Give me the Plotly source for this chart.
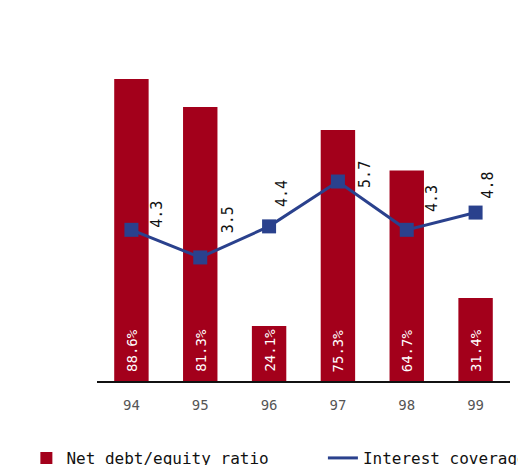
import plotly.graph_objects as go

years = ["94", "95", "96", "97", "98", "99"]
debt_equity = [88.6, 81.3, 24.1, 75.3, 64.7, 31.4]
coverage = [4.3, 3.5, 4.4, 5.7, 4.3, 4.8]

# label offsets (pixels) for the coverage labels
label_dx = [26, 28, 13, 27, 26, 12]
label_dy = [0, 22, 17, -8, 16, 12]

FONT = "DejaVu Sans Mono"
RED = "#A3001B"
BLUE = "#2A418D"
Y_MIN, Y_MAX = 9.74, 98.77

fig = go.Figure()
fig.add_trace(go.Bar(
    x=years, y=debt_equity, name="Net debt/equity ratio",
    marker=dict(color=RED, line=dict(width=0)), width=0.5,
    legend="legend",
))
fig.add_trace(go.Scatter(
    x=years, y=coverage, name="Interest coverage", yaxis="y2",
    mode="lines+markers", line=dict(color=BLUE, width=3),
    marker=dict(symbol="square", size=14, color=BLUE), showlegend=False,
))
# legend-only entry (line symbol without marker)
fig.add_trace(go.Scatter(
    x=[None], y=[None], name="Interest coverage", yaxis="y2",
    mode="lines", line=dict(color=BLUE, width=3), legend="legend2",
))
for i, v in enumerate(debt_equity):
    fig.add_annotation(x=i, y=Y_MIN, yref="y", text=f"{v:.1f}%", textangle=-90,
                       showarrow=False, xanchor="center", yanchor="bottom",
                       yshift=7, font=dict(family=FONT, size=14, color="white"))
for i, v in enumerate(coverage):
    fig.add_annotation(x=i, y=v, yref="y2", text=f"{v:.1f}", textangle=-90,
                       showarrow=False, xanchor="center", yanchor="bottom",
                       xshift=label_dx[i], yshift=label_dy[i],
                       font=dict(family=FONT, size=15, color="#111"))

legfont = dict(family=FONT, size=16, color="#111")
fig.update_layout(
    width=518, height=457,
    margin=dict(l=89, r=16, t=32, b=84, autoexpand=False),
    paper_bgcolor="white", plot_bgcolor="white",
    showlegend=True,
    legend=dict(orientation="h", x=-0.171, y=-0.176, xanchor="left", yanchor="top",
                font=legfont, bgcolor="rgba(0,0,0,0)"),
    legend2=dict(orientation="h", x=0.547, y=-0.176, xanchor="left", yanchor="top",
                 font=legfont, bgcolor="rgba(0,0,0,0)"),
    xaxis=dict(type="category", range=[-0.5, 5.5], showline=True, linecolor="#111",
               linewidth=2, ticks="",
               tickfont=dict(family=FONT, size=14, color="#555"),
               ticklabelstandoff=10, showgrid=False),
    yaxis=dict(range=[Y_MIN, Y_MAX], visible=False, showgrid=False),
    yaxis2=dict(range=[-0.08, 9.8], overlaying="y", visible=False, showgrid=False),
    font=dict(family=FONT),
)
fig.write_html("out.html")
